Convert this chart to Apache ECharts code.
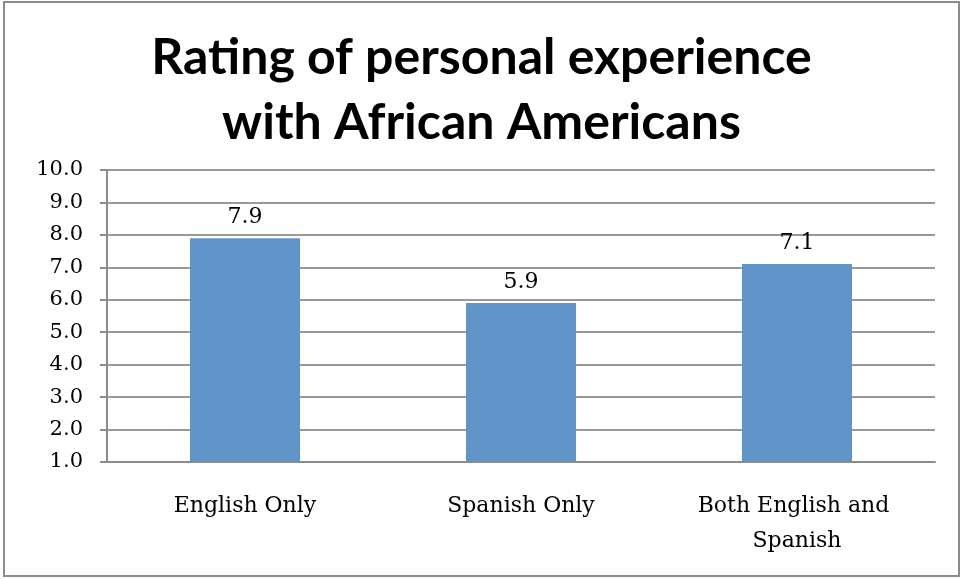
<!DOCTYPE html>
<html>
<head>
<meta charset="utf-8">
<script src="https://cdn.jsdelivr.net/npm/echarts@6/dist/echarts.min.js"></script>
<style>html,body{margin:0;padding:0;background:#fff}#c{width:963px;height:579px}</style>
</head>
<body>
<div id="c"></div>
<script>
const titleText = "Rating of personal experience\nwith African Americans";
const categories = ["English Only", "Spanish Only", "Both English and Spanish"];
const values = [7.9, 5.9, 7.1];
const yMin = 1, yMax = 10, yStep = 1;

const chart = echarts.init(document.getElementById('c'), null, {renderer: 'canvas'});
chart.setOption({
  backgroundColor: '#fff',
  animation: false,
  graphic: [{
    type: 'rect', shape: {x: 4, y: 2, width: 955, height: 574},
    style: {fill: 'none', stroke: '#8c8c8c', lineWidth: 2}, z: -1
  }],
  title: {
    text: titleText, left: 'center', top: 20,
    textStyle: {fontFamily: 'Lato', fontWeight: 'bold', fontSize: 50, lineHeight: 65, color: '#000'}
  },
  grid: {left: 107, right: 28, top: 170, bottom: 117, containLabel: false},
  xAxis: {
    type: 'category', data: categories,
    axisLine: {lineStyle: {color: '#8c8c8c', width: 2}},
    axisTick: {length: 8, lineStyle: {color: '#8c8c8c', width: 2}},
    axisLabel: {fontFamily: 'DejaVu Serif', fontSize: 22, color: '#000', margin: 27, lineHeight: 35,
      width: 240, overflow: 'break', interval: 0}
  },
  yAxis: {
    type: 'value', min: yMin, max: yMax, interval: yStep,
    axisLine: {show: true, lineStyle: {color: '#8c8c8c', width: 2}},
    axisTick: {show: true, length: 7, lineStyle: {color: '#8c8c8c', width: 2}},
    splitLine: {lineStyle: {color: '#999', width: 2}},
    axisLabel: {fontFamily: 'DejaVu Serif', fontSize: 21, color: '#000', margin: 24,
      formatter: v => v.toFixed(1)}
  },
  series: [{
    type: 'bar', data: values, barWidth: 110,
    itemStyle: {color: '#6195c9'},
    label: {show: true, position: 'top', distance: 10, fontFamily: 'DejaVu Serif', fontSize: 22, color: '#000',
      formatter: p => p.value.toFixed(1)}
  }]
});
</script>
</body>
</html>
